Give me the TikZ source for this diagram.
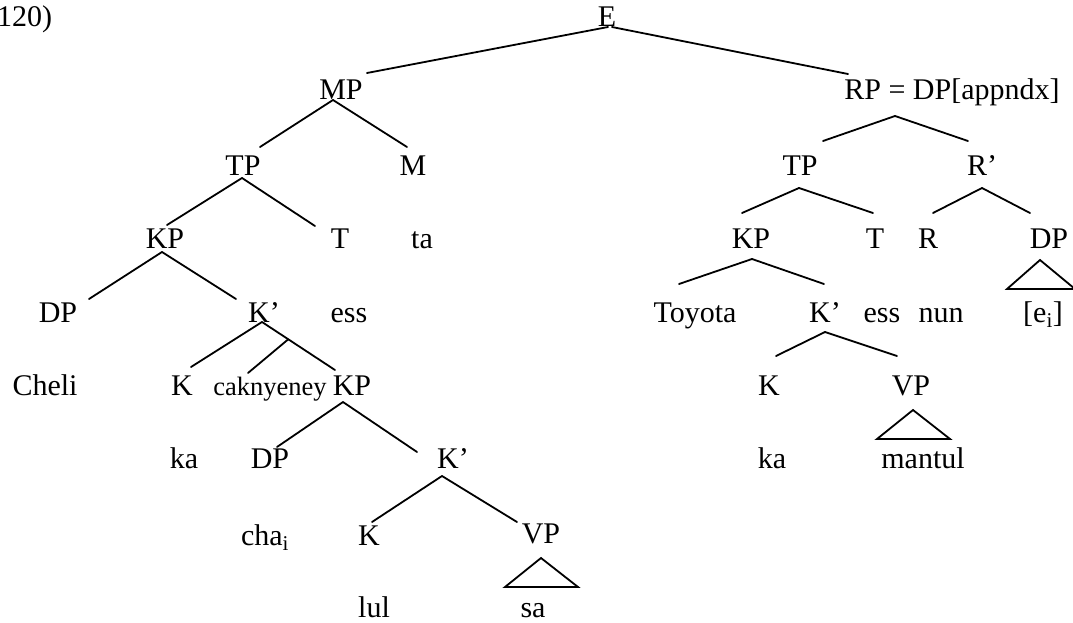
\documentclass[tikz,border=0pt]{standalone}
\usepackage{fontspec}
\setmainfont{Liberation Serif}
\usetikzlibrary{calc}
\begin{document}
\begin{tikzpicture}[x=1pt,y=-1pt,
  lbl/.style={anchor=base,inner sep=0pt,font=\fontsize{30}{36}\selectfont},
  smalllbl/.style={anchor=base,inner sep=0pt,font=\fontsize{26.5}{32}\selectfont},
  br/.style={line width=1.8pt,line cap=round}]
\useasboundingbox (0,0) rectangle (1073,623);
% row 0
\node[lbl,anchor=base west] (num) at (-3,27) {120)};
\node[lbl] (E) at (607,27) {E};
% row 1
\node[lbl] (MP) at (341,100) {MP};
\node[lbl] (RP) at (952,100) {RP = DP[appndx]};
% row 2
\node[lbl] (TPL) at (243,175) {TP};
\node[lbl] (M) at (413,175) {M};
\node[lbl] (TPR) at (800,175) {TP};
\node[lbl] (Rb) at (982,175) {R’};
% row 3
\node[lbl] (KPL) at (165,248) {KP};
\node[lbl] (TL) at (340,248) {T};
\node[lbl] (ta) at (422,248) {ta};
\node[lbl] (KPR) at (751,248) {KP};
\node[lbl] (TR) at (875,248) {T};
\node[lbl] (R) at (928,248) {R};
\node[lbl] (DPR) at (1049,248) {DP};
% row 4
\node[lbl] (DPL) at (58,322) {DP};
\node[lbl] (KbL) at (264,322) {K’};
\node[lbl] (essL) at (349,322) {ess};
\node[lbl] (toyota) at (695,322) {Toyota};
\node[lbl] (KbR) at (825,322) {K’};
\node[lbl] (essR) at (882,322) {ess};
\node[lbl] (nun) at (941,322) {nun};
\node[lbl] (ei) at (1043,322) {[e\textsubscript{i}]};
% row 5
\node[lbl] (cheli) at (45,395) {Cheli};
\node[lbl] (KL) at (182,395) {K};
\node[smalllbl] (cak) at (270,395) {caknyeney};
\node[lbl] (KPL2) at (352,395) {KP};
\node[lbl] (KR) at (769,395) {K};
\node[lbl] (VPR) at (911,395) {VP};
% row 6
\node[lbl] (kaL) at (184,468) {ka};
\node[lbl] (DPL2) at (270,468) {DP};
\node[lbl] (KbL2) at (453,468) {K’};
\node[lbl] (kaR) at (772,468) {ka};
\node[lbl] (mantul) at (923,468) {mantul};
% row 7
\node[lbl] (cha) at (265,545) {cha\textsubscript{i}};
\node[lbl] (KL3) at (369,545) {K};
\node[lbl] (VPL) at (541,543) {VP};
% row 8
\node[lbl] (lul) at (374,617) {lul};
\node[lbl] (sa) at (533,617) {sa};

% connectors, left
\draw[br] ([shift={(1,0)}]E.base) -- ([shift={(26,-27)}]MP.base);
\draw[br] ([shift={(5,0)}]E.base) -- ([shift={(-104,-26)}]RP.base);
\draw[br] ([shift={(-8,0)}]MP.base) -- ([shift={(17,-28)}]TPL.base);
\draw[br] ([shift={(-8,0)}]MP.base) -- ([shift={(-6,-28)}]M.base);
\draw[br] ([shift={(-1,3)}]TPL.base) -- ([shift={(2,-23)}]KPL.base);
\draw[br] ([shift={(-1,3)}]TPL.base) -- ([shift={(-25,-22)}]TL.base);
\draw[br] ([shift={(-3,4)}]KPL.base) -- ([shift={(31,-23)}]DPL.base);
\draw[br] ([shift={(-3,4)}]KPL.base) -- ([shift={(-28,-23)}]KbL.base);
\draw[br] ([shift={(-2,0)}]KbL.base) -- ([shift={(9,-28)}]KL.base);
\draw[br] ([shift={(-2,0)}]KbL.base) coordinate (kbla) -- ([shift={(-17,-25)}]KPL2.base) coordinate (kblb);
\coordinate (mid) at ($(kbla)!0.36!(kblb)$);
\draw[br] (mid) -- ([shift={(-22,-22)}]cak.base);
\draw[br] ([shift={(-9,7)}]KPL2.base) -- ([shift={(7,-21)}]DPL2.base);
\draw[br] ([shift={(-9,7)}]KPL2.base) -- ([shift={(-36,-16)}]KbL2.base);
\draw[br] ([shift={(-11,8)}]KbL2.base) -- ([shift={(3,-23)}]KL3.base);
\draw[br] ([shift={(-11,8)}]KbL2.base) -- ([shift={(-24,-21)}]VPL.base);
\draw[br,line join=miter] ([shift={(0,15)}]VPL.base) -- ([shift={(-36,44)}]VPL.base) -- ([shift={(37,44)}]VPL.base) -- cycle;
% connectors, right
\draw[br] ([shift={(-57,16)}]RP.base) -- ([shift={(23,-34)}]TPR.base);
\draw[br] ([shift={(-57,16)}]RP.base) -- ([shift={(-14,-34)}]Rb.base);
\draw[br] ([shift={(-1,13)}]TPR.base) -- ([shift={(-9,-35)}]KPR.base);
\draw[br] ([shift={(-1,13)}]TPR.base) -- ([shift={(-2,-35)}]TR.base);
\draw[br] ([shift={(0,13)}]Rb.base) -- ([shift={(5,-35)}]R.base);
\draw[br] ([shift={(0,13)}]Rb.base) -- ([shift={(-19,-35)}]DPR.base);
\draw[br] ([shift={(1,11)}]KPR.base) -- ([shift={(-16,-38)}]toyota.base);
\draw[br] ([shift={(1,11)}]KPR.base) -- ([shift={(-1,-38)}]KbR.base);
\draw[br] ([shift={(0,10)}]KbR.base) -- ([shift={(7,-39)}]KR.base);
\draw[br] ([shift={(0,10)}]KbR.base) -- ([shift={(-14,-39)}]VPR.base);
\draw[br,line join=miter] ([shift={(2,15)}]VPR.base) -- ([shift={(-34,44)}]VPR.base) -- ([shift={(39,44)}]VPR.base) -- cycle;
\draw[br,line join=miter] ([shift={(-9,12)}]DPR.base) -- ([shift={(-42,41)}]DPR.base) -- ([shift={(26,41)}]DPR.base) -- cycle;
\end{tikzpicture}
\end{document}
